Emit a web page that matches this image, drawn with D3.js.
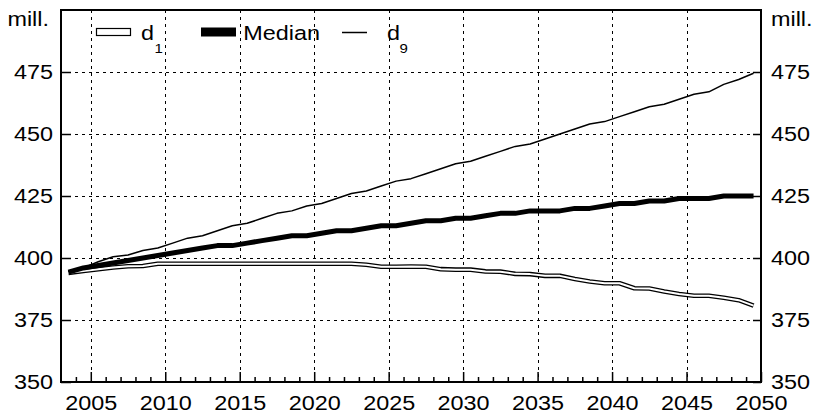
<!DOCTYPE html>
<html>
<head>
<meta charset="utf-8">
<script src="https://cdn.jsdelivr.net/npm/d3@7/dist/d3.min.js"></script>
<style>
  html, body { margin: 0; padding: 0; background: #fff; }
  svg { display: block; font-family: "Liberation Sans", Arial, Helvetica, sans-serif; }
</style>
</head>
<body>
<svg id="chart" width="813" height="417"></svg>
<script>
// Annual values, 2004-2050 (millions)
const years = [2004, 2005, 2006, 2007, 2008, 2009, 2010, 2011, 2012, 2013, 2014, 2015, 2016, 2017, 2018, 2019,
  2020, 2021, 2022, 2023, 2024, 2025, 2026, 2027, 2028, 2029, 2030, 2031, 2032, 2033, 2034, 2035, 2036, 2037,
  2038, 2039, 2040, 2041, 2042, 2043, 2044, 2045, 2046, 2047, 2048, 2049, 2050];

const d1 = [394.0, 394.8, 395.5, 396.2, 396.7, 396.8, 397.7, 397.7, 397.7, 397.7, 397.7, 397.7, 397.7, 397.7, 397.7, 397.7,
  397.7, 397.7, 397.7, 397.7, 397.3, 396.5, 396.5, 396.6, 396.5, 395.5, 395.3, 395.3, 394.6, 394.5, 393.6, 393.5, 392.8, 392.8,
  391.5, 390.5, 389.8, 389.8, 387.8, 387.7, 386.5, 385.5, 384.8, 384.8, 384.0, 383.0, 380.8];

const median = [394.3, 396, 397, 398, 399, 400, 401, 402, 403, 404, 405, 405, 406, 407, 408, 409,
  409, 410, 411, 411, 412, 413, 413, 414, 415, 415, 416, 416, 417, 418, 418, 419, 419, 419,
  420, 420, 421, 422, 422, 423, 423, 424, 424, 424, 425, 425, 425];

const d9 = [394.5, 396, 398.5, 400.5, 401.2, 403, 404, 406, 408, 409, 411, 413, 414, 416, 418, 419,
  421, 422, 424, 426, 427, 429, 431, 432, 434, 436, 438, 439, 441, 443, 445, 446, 448, 450,
  452, 454, 455, 457, 459, 461, 462, 464, 466, 467, 470, 472, 474.5];

const xDomain = [2003, 2050];
const yDomain = [350, 500];
const yearTicks = [2005, 2010, 2015, 2020, 2025, 2030, 2035, 2040, 2045, 2050];
const valueTicks = [350, 375, 400, 425, 450, 475];
const unitLabel = "mill.";

const svg = d3.select("#chart");
const frame = { left: 61, right: 761, top: 10, bottom: 382 };
const FS = 19.5;      // main font size
const SX = 1.2;       // horizontal stretch of the lettering

const x = d3.scaleLinear().domain(xDomain).range([frame.left, frame.right]);
const y = d3.scaleLinear().domain(yDomain).range([frame.bottom, frame.top]);

// each annual value sits half a year before its year mark
const px = i => x(years[i] - 0.5);

// text helper: wide lettering anchored at (tx, ty)
function label(parent, tx, ty, str, opts = {}) {
  const size = opts.size || FS;
  return parent.append("text")
    .attr("transform", `translate(${tx},${ty}) scale(${SX},1)`)
    .attr("text-anchor", opts.anchor || "start")
    .attr("font-size", size)
    .attr("fill", "#000")
    .text(str);
}

// dashed grid
const grid = svg.append("g").attr("stroke", "#000").attr("stroke-width", 1)
  .attr("stroke-dasharray", "3,4").attr("shape-rendering", "crispEdges");
grid.selectAll("line.v").data(yearTicks.filter(t => t > xDomain[0] && t < xDomain[1]))
  .join("line").attr("class", "v")
  .attr("x1", d => Math.round(x(d)) + 0.5).attr("x2", d => Math.round(x(d)) + 0.5)
  .attr("y1", frame.top).attr("y2", frame.bottom);
grid.selectAll("line.h").data(valueTicks.filter(t => t > yDomain[0] && t < yDomain[1]))
  .join("line").attr("class", "h")
  .attr("y1", d => Math.round(y(d)) + 0.5).attr("y2", d => Math.round(y(d)) + 0.5)
  .attr("x1", frame.left).attr("x2", frame.right);

// axes with inward ticks
const leftAxis = d3.axisLeft(y).tickValues(valueTicks).tickSize(-10).tickPadding(8).tickFormat(d3.format("d"));
const rightAxis = d3.axisRight(y).tickValues(valueTicks).tickSize(-8).tickPadding(10).tickFormat(d3.format("d"));
const minorYears = d3.range(2004, 2050).filter(v => v % 5 !== 0);
const bottomMajor = d3.axisBottom(x).tickValues(yearTicks).tickSize(-10).tickPadding(14).tickFormat(d3.format("d"));
const bottomMinor = d3.axisBottom(x).tickValues(minorYears).tickSize(-5).tickFormat("");

function styleAxis(g) {
  g.select(".domain").remove();
  g.selectAll(".tick line").attr("stroke", "#000").attr("stroke-width", 1.5);
  g.selectAll(".tick text").each(function () {
    const t = d3.select(this);
    const tx = +t.attr("x") || 0;
    t.attr("x", tx / SX)
      .attr("transform", `scale(${SX},1)`)
      .attr("fill", "#000").attr("font-size", FS)
      .attr("font-family", "\"Liberation Sans\", Arial, sans-serif");
  });
}

svg.append("g").attr("transform", `translate(${frame.left},0)`).call(leftAxis).call(styleAxis);
svg.append("g").attr("transform", `translate(${frame.right},0)`).call(rightAxis).call(styleAxis);
svg.append("g").attr("transform", `translate(0,${frame.bottom})`).call(bottomMajor).call(styleAxis);
svg.append("g").attr("transform", `translate(0,${frame.bottom})`).call(bottomMinor).call(styleAxis);

// unit labels
label(svg, 49, 26, unitLabel, { anchor: "end" });
label(svg, 771, 26, unitLabel);

// series lines
const line = d3.line().x((d, i) => px(i)).y(d => y(d)).curve(d3.curveLinear);

// d1 drawn as a hollow (double) line
svg.append("path").datum(d1).attr("d", line).attr("fill", "none")
  .attr("stroke", "#000").attr("stroke-width", 4.6).attr("stroke-linejoin", "round");
svg.append("path").datum(d1).attr("d", line).attr("fill", "none")
  .attr("stroke", "#fff").attr("stroke-width", 2).attr("stroke-linejoin", "round");

svg.append("path").datum(median).attr("d", line).attr("fill", "none")
  .attr("stroke", "#000").attr("stroke-width", 5).attr("stroke-linejoin", "round");

svg.append("path").datum(d9).attr("d", line).attr("fill", "none")
  .attr("stroke", "#000").attr("stroke-width", 1.5).attr("stroke-linejoin", "round");

// frame
svg.append("rect").attr("x", frame.left).attr("y", frame.top)
  .attr("width", frame.right - frame.left).attr("height", frame.bottom - frame.top)
  .attr("fill", "none").attr("stroke", "#000").attr("stroke-width", 2);

// legend
const lg = svg.append("g");
lg.append("rect").attr("x", 96.5).attr("y", 28.5).attr("width", 34).attr("height", 7)
  .attr("fill", "#fff").attr("stroke", "#000").attr("stroke-width", 1.2);
label(lg, 141, 40, "d");
label(lg, 154.5, 53, "1", { size: 12.5 });

lg.append("rect").attr("x", 201).attr("y", 27.5).attr("width", 35).attr("height", 9).attr("fill", "#000");
label(lg, 243.3, 40, "Median");

lg.append("line").attr("x1", 342).attr("x2", 367).attr("y1", 32.5).attr("y2", 32.5)
  .attr("stroke", "#000").attr("stroke-width", 1.5);
label(lg, 387, 40, "d");
label(lg, 399.5, 53, "9", { size: 12.5 });
</script>
</body>
</html>
